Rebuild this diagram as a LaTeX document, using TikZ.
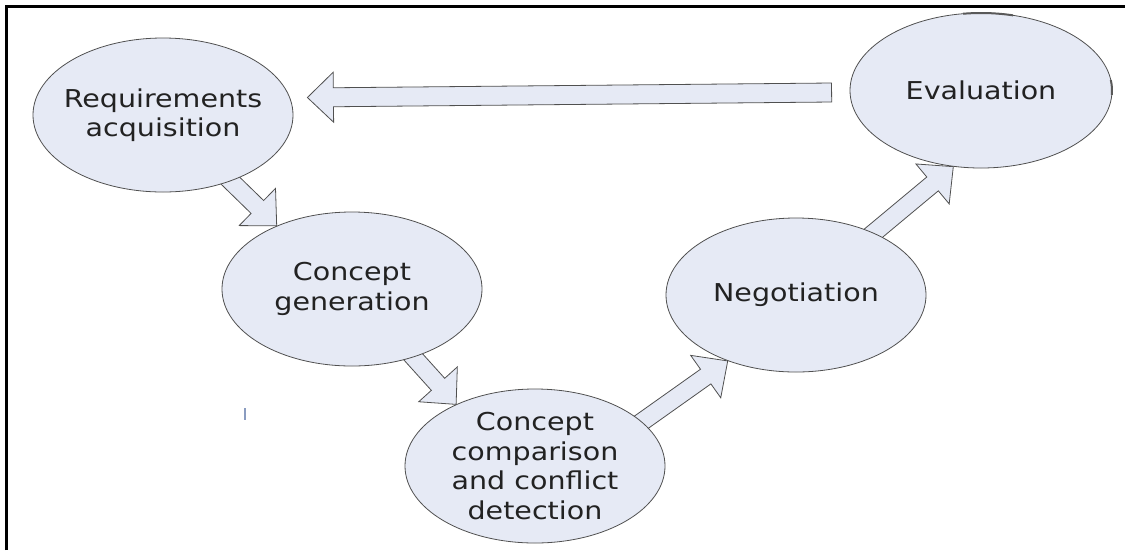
\documentclass[tikz,border=0pt]{standalone}
\usepackage{fontspec}
\newfontfamily\bubblefont[FakeStretch=1.16]{DejaVu Sans}
\usetikzlibrary{shapes.geometric,calc,backgrounds}

\definecolor{bubblefill}{HTML}{E6EAF5}
\definecolor{bubbleline}{HTML}{505050}
\definecolor{inktext}{HTML}{222222}
\definecolor{marktick}{HTML}{8A9CC0}

% block-arrow geometry
\def\shafthalf{9pt}
\def\headhalf{26pt}
\def\headlen{27pt}

% wide hollow arrow from coordinate #1 (tail) to coordinate #2 (tip)
\newcommand\flowarrow[2]{%
  \path (#2) coordinate (fa-tip) (#1) coordinate (fa-tail);
  \path ($(fa-tip)!\headlen!(fa-tail)$) coordinate (fa-base);
  \draw[arrowbody] ($(fa-tail)!\shafthalf!90:(fa-tip)$)
     -- ($(fa-base)!\shafthalf!90:(fa-tip)$)
     -- ($(fa-base)!\headhalf!90:(fa-tip)$)
     -- (fa-tip)
     -- ($(fa-base)!\headhalf!-90:(fa-tip)$)
     -- ($(fa-base)!\shafthalf!-90:(fa-tip)$)
     -- ($(fa-tail)!\shafthalf!-90:(fa-tip)$) -- cycle;}

\tikzset{
  bubble/.style={ellipse, draw=bubbleline, line width=0.8pt, fill=bubblefill,
    minimum width=260pt, minimum height=154pt, inner sep=0pt},
  bubbletext/.style={align=center, inner sep=0pt, text=inktext,
    font=\bubblefont\fontsize{24.6}{29.5}\selectfont},
  arrowbody/.style={draw=bubbleline, line width=0.8pt, fill=bubblefill, line join=miter},
  handlemark/.style={draw=black!65, line width=2pt},
  frameline/.style={draw=black, line width=3pt}
}

\begin{document}
\begin{tikzpicture}[x=1pt, y=-1pt]
\useasboundingbox (0,0) rectangle (1125,550);

% process stages
\node[bubble, label={[bubbletext]center:{Requirements\\acquisition}}] (ra) at (163,115) {};
\node[bubble, label={[bubbletext]center:{Concept\\generation}}] (cg) at (352,289) {};
\node[bubble, label={[bubbletext]center:{Concept\\comparison\\and conflict\\detection}}] (cc) at (535,466) {};
\node[bubble, label={[bubbletext]center:{Negotiation}}] (ng) at (796,295) {};
\node[bubble, minimum width=262pt, minimum height=155pt,
      label={[bubbletext]center:{Evaluation}}] (ev) at (981,90.5) {};

% free ends of the feedback arrow
\coordinate (back-tail) at ($(ev.west)+(-18,2)$);
\coordinate (back-tip)  at ($(ra.east)+(14,-17.5)$);
% tails hidden under the source stages
\coordinate (cc-out) at ($(cc.center)+(70,-18)$);
\coordinate (ng-out) at ($(ng.center)+(56,-44)$);

\begin{scope}[on background layer]
  \fill[white] (0,0) rectangle (1125,550);
  \flowarrow{ra.center}{cg.140.8}
  \flowarrow{cg.center}{cc.142}
  \flowarrow{cc-out}{ng.224.6}
  \flowarrow{ng-out}{ev.250.4}
  \begingroup
  \def\shafthalf{9.5pt}\def\headhalf{25pt}\def\headlen{26pt}
  \flowarrow{back-tail}{back-tip}
  \endgroup
\end{scope}

% darker marks on the evaluation outline
\draw[handlemark] ([shift={(ev.center)}]75.9:131pt and 77.5pt)
  arc[start angle=75.9, end angle=97.9, x radius=131pt, y radius=77.5pt];
\draw[handlemark] ([shift={(ev.center)}]-3.3:131pt and 77.5pt)
  arc[start angle=-3.3, end angle=7.8, x radius=131pt, y radius=77.5pt];

% small stray tick
\draw[marktick, line width=1.2pt] (245,408) -- (245,420);

% frame
\draw[frameline] (6.5,550) -- (6.5,6) -- (1125,6);
\end{tikzpicture}
\end{document}
